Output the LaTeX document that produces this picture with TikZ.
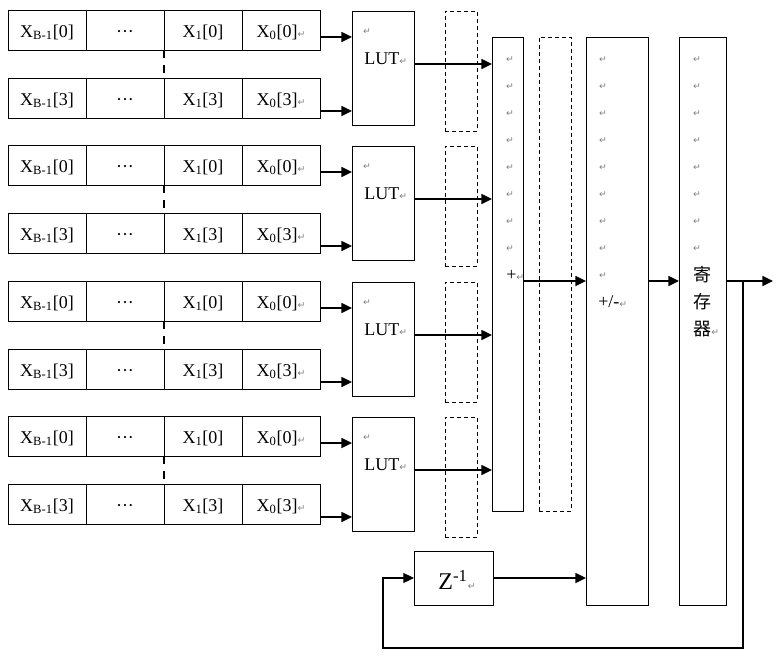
\documentclass[tikz,border=0pt]{standalone}
\usepackage{fontspec}
\setmainfont{Liberation Serif}
\newfontfamily\markfont{DejaVu Sans}
\newfontfamily\cjkfont{Noto Sans CJK SC}
\usetikzlibrary{arrows.meta,positioning}

\newcommand{\pmark}{{\markfont\fontsize{7}{7}\selectfont\textcolor{gray}{↵}}}

\tikzset{
  cell/.style={draw, line width=0.75pt, inner sep=0pt, outer sep=0pt, minimum width=58.5pt, minimum height=30pt, text height=12pt, text depth=1.5pt},
  box/.style={draw, line width=0.75pt, inner sep=0pt, outer sep=0pt},
  dbox/.style={draw, line width=0.75pt, dash pattern=on 3pt off 2.25pt, inner sep=0pt, outer sep=0pt, minimum width=24pt},
  arr/.style={-{Triangle[length=8pt,width=7.5pt]}, line width=1.1pt},
  pm/.style={inner sep=0pt}
}

\begin{document}
\begin{tikzpicture}[x=0.75pt, y=-0.75pt, every node/.style={font=\fontsize{13.5}{16}\selectfont}]
  \useasboundingbox (0,0) rectangle (778,661);

  % Adder, register and delay
  \node[box, minimum width=23.25pt, minimum height=355.5pt] (add) at (507.5,274) {};
  \node[dbox, minimum height=355.5pt] (dl) at (555,274) {};
  \node[box, minimum width=46.5pt, minimum height=426pt] (pmb) at (617,321) {};
  \node[box, minimum width=35.25pt, minimum height=426pt] (reg) at (702.5,321) {};
  \node[box, minimum width=59.25pt, minimum height=40.5pt] (z) at (453.5,578) {};
  \node (zt) at (457,580) {\fontsize{18}{20}\selectfont Z\textsuperscript{-1}\pmark};

  \foreach \k in {0,...,7} {
    \node[pm] (am\k) at (510,60+27*\k) {\pmark};
    \node[pm] (rm\k) at (697,60+27*\k) {\pmark};
  }
  \foreach \k in {0,...,8}
    \node[pm] (pm\k) at (603,60+27*\k) {\pmark};
  \node[pm, anchor=west] (addt) at (506,275) {+\pmark};
  \node[pm, anchor=west] (pmt) at (598,302) {+/-\pmark};
  \node[pm] (r1) at (702,275) {\cjkfont 寄};
  \node[pm] (r2) at (702,302) {\cjkfont 存};
  \node[pm, anchor=west] (r3) at (693,329) {{\cjkfont 器}\pmark};

  % Input words and LUTs
  \foreach \n/\yy in {1/10, 2/145, 3/281, 4/416} {
    \node[cell] (a\n1) at (47,\yy+20) {X\textsubscript{B-1}[0]};
    \node[cell, right=0pt of a\n1] (a\n2) {···};
    \node[cell, right=0pt of a\n2] (a\n3) {X\textsubscript{1}[0]};
    \node[cell, right=0pt of a\n3] (a\n4) {X\textsubscript{0}[0]\pmark\hspace{8pt}};
    \node[cell] (b\n1) at (47,\yy+88) {X\textsubscript{B-1}[3]};
    \node[cell, right=0pt of b\n1] (b\n2) {···};
    \node[cell, right=0pt of b\n2] (b\n3) {X\textsubscript{1}[3]};
    \node[cell, right=0pt of b\n3] (b\n4) {X\textsubscript{0}[3]\pmark\hspace{8pt}};
    \draw[line width=1.3pt, dash pattern=on 6pt off 5pt] (a\n2.south east) -- (b\n2.north east);

    \node[box, minimum width=46.5pt, minimum height=85.5pt] (lut\n) at (383,\yy+58) {};
    \node[pm] (lm\n) at (367,\yy+22) {\pmark};
    \node[pm, anchor=west] (lt\n) at (364,\yy+49) {LUT\pmark};
    \node[dbox, minimum height=90pt] (d\n) at (461,\yy+61) {};

    \draw[arr] ([yshift=-5.25pt]a\n4.east) -- ([yshift=-5.25pt]a\n4.east -| lut\n.west);
    \draw[arr] ([yshift=-9.75pt]b\n4.east) -- ([yshift=-9.75pt]b\n4.east -| lut\n.west);
    \draw[arr] ([yshift=3pt]lut\n.east) -- ([yshift=3pt]lut\n.east -| add.west);
  }

  % Links
  \coordinate (lvl) at (0,281);
  \coordinate (out) at (773,281);
  \coordinate (tap) at (743,281);
  \coordinate (fb) at (383,648);
  \draw[arr] (add.east |- lvl) -- (pmb.west |- lvl);
  \draw[arr] (pmb.east |- lvl) -- (reg.west |- lvl);
  \draw[arr] (reg.east |- lvl) -- (out);
  \draw[arr, line width=0.8pt] (tap) -- (tap |- fb) -- (fb) |- (z.west);
  \draw[arr] (z.east) -- (z.east -| pmb.west);
\end{tikzpicture}
\end{document}
